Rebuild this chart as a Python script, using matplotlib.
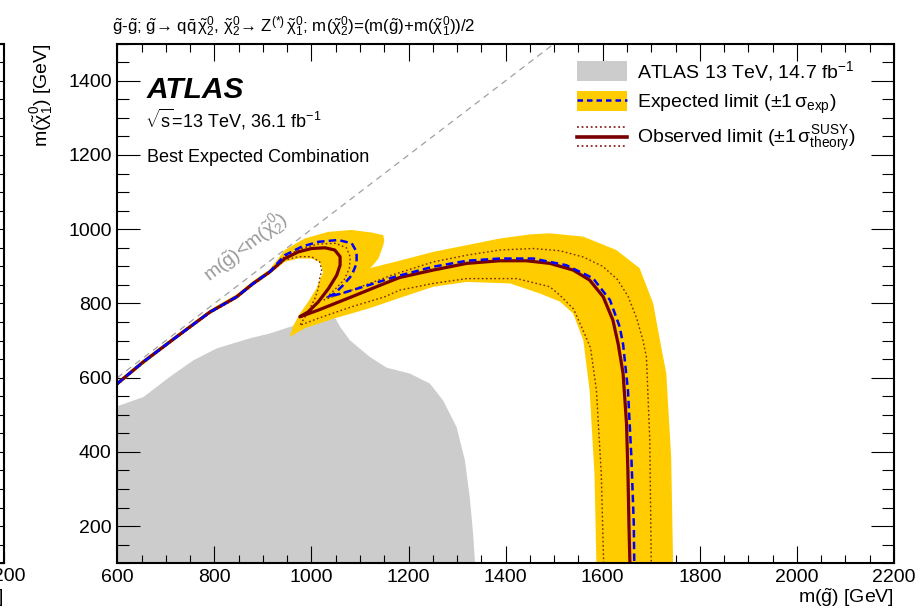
import matplotlib
matplotlib.use('Agg')
import matplotlib.pyplot as plt
from matplotlib.lines import Line2D
from matplotlib.patches import Patch
from matplotlib.legend_handler import HandlerBase, HandlerTuple
from matplotlib.ticker import MultipleLocator, FixedLocator

plt.rcParams['font.family'] = ['Liberation Sans', 'DejaVu Sans']
plt.rcParams['mathtext.fontset'] = 'custom'
plt.rcParams['mathtext.rm'] = 'Liberation Sans'
plt.rcParams['mathtext.it'] = 'Liberation Sans'
plt.rcParams['mathtext.bf'] = 'Liberation Sans:bold'

# ATLAS 13 TeV 14.7 fb-1 excluded region
gray_x = [600, 654, 708, 757, 805, 873, 914, 956, 1000, 1030, 1045, 1059, 1079, 1120,
          1155, 1203, 1244, 1271, 1299, 1316, 1326, 1333, 1337, 600]
gray_y = [523, 548, 602, 647, 679, 706, 719, 737, 755, 772, 770, 737, 701, 656,
          627, 611, 584, 539, 467, 378, 279, 180, 100, 100]

# expected +-1 sigma band outline
band_x = [600, 653, 722, 791, 846, 880, 914, 945,
          986, 1035, 1083, 1124, 1148, 1150, 1148, 1138, 1124, 1120, 1144, 1172,
          1251, 1320, 1388, 1450, 1491, 1560, 1628, 1676, 1704, 1718, 1731, 1741, 1745,
          1587, 1583, 1573, 1560, 1539, 1512, 1470, 1409, 1320, 1251, 1182, 1117, 1048, 986, 955,
          963, 976, 993, 1010, 1024,
          1021, 1017, 1000, 973, 945,
          914, 880, 846, 791, 722, 653, 600]
band_y = [590, 648, 716, 783, 825, 861, 892, 944,
          975, 993, 998, 991, 984, 970, 957, 921, 899, 895, 903, 912,
          939, 957, 975, 986, 989, 980, 944, 895, 800, 700, 611, 387, 100,
          100, 342, 566, 701, 773, 805, 827, 854, 858, 845, 815, 786, 760, 733, 710,
          741, 772, 804, 840, 885,
          898, 912, 921, 921, 912,
          879, 848, 812, 772, 705, 635, 578]

# expected limit
exp_x = [600, 653, 722, 791, 846, 880, 914, 945, 980, 1014, 1055, 1083, 1093, 1093,
         1083, 1065, 1048, 1035, 1062, 1117, 1172, 1251, 1320, 1388, 1457, 1525,
         1580, 1615, 1635, 1642, 1652, 1659, 1664, 1665]
exp_y = [584, 642, 710, 777, 818, 854, 885, 930, 953, 966, 971, 962, 939, 908,
         876, 849, 827, 818, 827, 849, 872, 899, 915, 921, 921, 903,
         868, 809, 737, 690, 566, 387, 207, 100]

# observed limit
obs_x = [600, 653, 722, 791, 846, 880, 914, 945, 973, 1000, 1028, 1048, 1059, 1059,
         1052, 1035, 1014, 993, 976, 1014, 1083, 1151, 1182, 1251, 1320, 1388, 1443,
         1491, 1539, 1573, 1601, 1621, 1632, 1642, 1649, 1652, 1654, 1656]
obs_y = [584, 642, 710, 777, 818, 854, 885, 921, 939, 948, 950, 944, 926, 903,
         876, 840, 804, 777, 764, 782, 818, 854, 870, 890, 908, 915, 915,
         908, 890, 863, 818, 755, 690, 611, 477, 342, 207, 100]

# observed +1 sigma theory
obs_up_x = [600, 653, 722, 791, 846, 880, 914, 945, 980, 1014, 1050, 1072, 1080, 1078,
            1068, 1050, 1026, 1083, 1165, 1251, 1320, 1388, 1457, 1512, 1560, 1600,
            1630, 1652, 1670, 1683, 1690, 1697, 1700]
obs_up_y = [584, 642, 710, 777, 818, 854, 885, 927, 948, 960, 962, 950, 925, 895,
            865, 840, 810, 836, 876, 912, 930, 944, 948, 942, 925, 900,
            865, 820, 760, 700, 656, 431, 100]

# observed -1 sigma theory
obs_dn_x = [1602, 1601, 1597, 1587, 1575, 1562, 1540, 1512, 1491, 1423, 1320, 1251, 1182,
            1151, 1083, 1014, 976, 993, 1007, 1014, 1017, 1021, 1017, 1000, 973, 945,
            914, 880, 846, 791, 722, 653, 600]
obs_dn_y = [100, 144, 342, 566, 680, 720, 785, 822, 845, 867, 867, 854, 836,
            818, 791, 760, 741, 777, 813, 840, 867, 890, 912, 926, 926, 917,
            882, 851, 815, 774, 707, 639, 581]

# kinematic limit
diag_x = [600, 1500]
diag_y = [600, 1500]

GRAY = '#cccccc'
YELLOW = '#ffcc00'
BLUE = '#0000ff'
OBS = '#770000'
DOT = '#7a2a00'


class ObsHandler(HandlerBase):
    def create_artists(self, legend, orig_handle, xdescent, ydescent,
                       width, height, fontsize, trans):
        yc = height / 2 - ydescent
        x0, x1 = -xdescent, width - xdescent
        arts = []
        for off, ls, lw in ((0, '-', 2.6), (0.47 * height, (0, (1.2, 1.8)), 1.1),
                            (-0.47 * height, (0, (1.2, 1.8)), 1.1)):
            arts.append(Line2D([x0, x1], [yc + off] * 2, color=OBS, ls=ls, lw=lw,
                               transform=trans))
        return arts


fig = plt.figure(figsize=(9.22, 6.11), dpi=100)
ax = fig.add_axes([0.1272, 0.0781, 0.8424, 0.8505])

ax.fill(gray_x, gray_y, color=GRAY, lw=0, zorder=1)
ax.fill(band_x, band_y, color=YELLOW, lw=0, zorder=2)
ax.plot(obs_up_x, obs_up_y, color=DOT, lw=1.0, ls=(0, (1.2, 1.8)), zorder=3)
ax.plot(obs_dn_x, obs_dn_y, color=DOT, lw=1.0, ls=(0, (1.2, 1.8)), zorder=3)
ax.plot(obs_x, obs_y, color=OBS, lw=2.3, solid_joinstyle='round', zorder=4)
ax.plot(exp_x, exp_y, color=BLUE, lw=1.8, dashes=(3.0, 1.7), zorder=5)
ax.plot(diag_x, diag_y, color='#a0a0a0', lw=0.9, dashes=(5, 4), zorder=2)

ax.text(790, 858, r'm($\tilde{\rm g}$)<m($\tilde{\chi}_2^0$)', color='#9a9a9a',
        fontsize=14, rotation=45, ha='left', va='baseline',
        rotation_mode='anchor', transform_rotates_text=True, zorder=6)

ax.set_xlim(600, 2200)
ax.set_ylim(100, 1500)
for a in (ax.xaxis, ax.yaxis):
    a.set_major_locator(MultipleLocator(200))
    a.set_minor_locator(MultipleLocator(50))
ax.tick_params(which='both', direction='in', top=True, right=True, width=0.8,
               labelsize=14)
ax.tick_params(axis='x', which='major', length=12.5, pad=4)
ax.tick_params(axis='x', which='minor', length=6)
ax.tick_params(axis='y', which='major', length=16.5, pad=4)
ax.tick_params(axis='y', which='minor', length=8.5)
for s in ax.spines.values():
    s.set_linewidth(1.5)
    s.set_zorder(10)

obs_proxy = Line2D([], [])
handles = [Patch(facecolor=GRAY, edgecolor='none'),
           (Patch(facecolor=YELLOW, edgecolor='none'),
            Line2D([], [], color=BLUE, lw=1.8, dashes=(2.2, 1.6))),
           obs_proxy]
labels = [r'ATLAS 13 TeV, 14.7 fb$^{-1}$',
          r'Expected limit ($\pm$1$\,\sigma_{\rm exp}$)',
          r'Observed limit ($\pm$1$\,\sigma_{\rm theory}^{\rm SUSY}$)']
ax.legend(handles, labels, loc='upper left', bbox_to_anchor=(0.5915, 0.970),
          frameon=False, fontsize=14, borderpad=0, borderaxespad=0,
          handlelength=2.6, handleheight=1.2, handletextpad=0.5, labelspacing=0.42,
          handler_map={obs_proxy: ObsHandler(), tuple: HandlerTuple(ndivide=1)})

ax.text(0.038, 0.895, 'ATLAS', transform=ax.transAxes, fontsize=21.5,
        fontweight='bold', fontstyle='italic', va='baseline')
ax.text(0.036, 0.838, r'$\sqrt{\rm s}$=13 TeV, 36.1 fb$^{-1}$', transform=ax.transAxes,
        fontsize=13, va='baseline')
ax.text(0.038, 0.773, 'Best Expected Combination', transform=ax.transAxes,
        fontsize=13, va='baseline')

fig.text(112 / 922, 1 - 27 / 611,
         r'$\tilde{\rm g}$-$\tilde{\rm g}$; $\tilde{\rm g}$→ q$\bar{\rm q}\,'
         r'\tilde{\chi}_2^0$, $\tilde{\chi}_2^0$→ Z$^{(*)}\,\tilde{\chi}_1^0$; '
         r'm($\tilde{\chi}_2^0$)=(m($\tilde{\rm g}$)+m($\tilde{\chi}_1^0$))/2',
         fontsize=12.2, ha='left', va='center')
fig.text(894 / 922, 1 - 598 / 611, r'm($\tilde{\rm g}$) [GeV]', fontsize=14,
         ha='right', va='center')
fig.text(42 / 922, 1 - 43 / 611, r'm($\tilde{\chi}_1^0$) [GeV]', fontsize=14,
         rotation=90, ha='center', va='top')

# edge of the neighbouring panel
ax0 = fig.add_axes([0.0038 - 0.5, 0.0781, 0.5, 0.8505])
ax0.set_xlim(600, 2200)
ax0.set_ylim(100, 1500)
ax0.xaxis.set_major_locator(FixedLocator([2200]))
ax0.yaxis.set_major_locator(MultipleLocator(200))
ax0.yaxis.set_minor_locator(MultipleLocator(50))
ax0.tick_params(which='both', direction='in', right=True, labelleft=False,
                labelsize=14, width=0.8, length=8)
for s in ax0.spines.values():
    s.set_linewidth(1.5)
fig.text(4 / 922, 1 - 598 / 611, r'm($\tilde{\rm g}$) [GeV]', fontsize=14,
         ha='right', va='center')

fig.savefig('out.png', dpi=100)
